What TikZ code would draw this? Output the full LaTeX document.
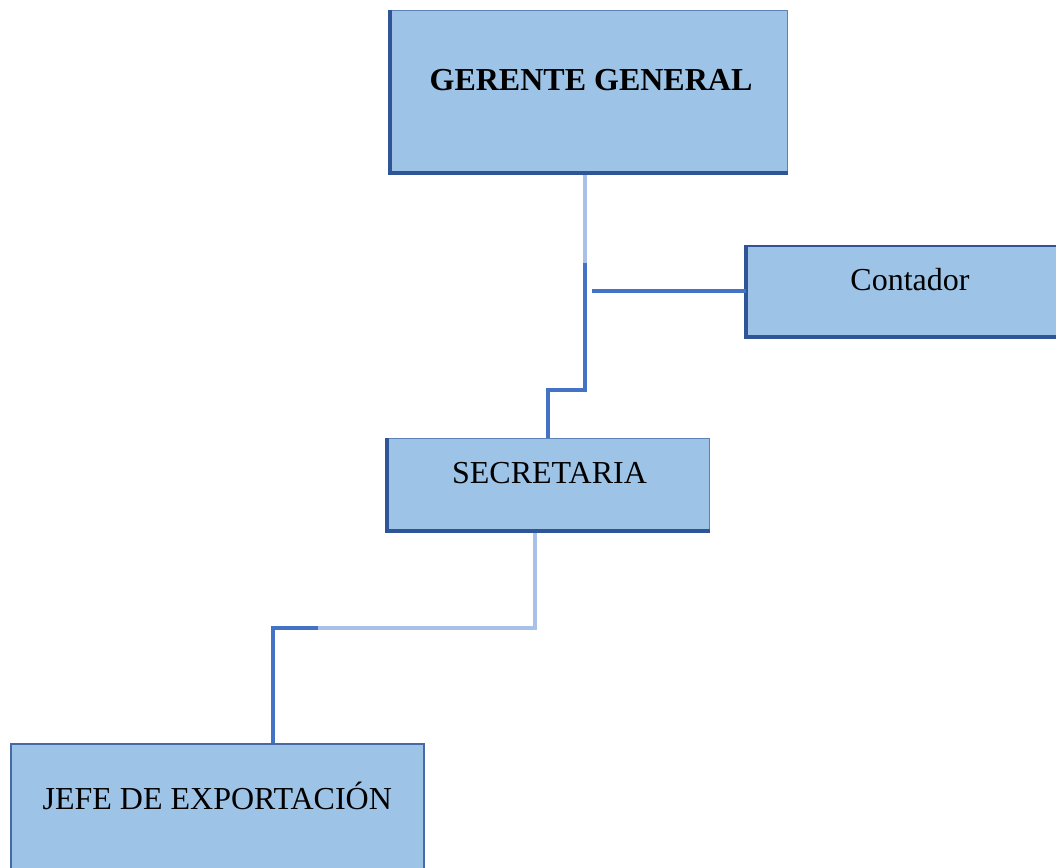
\documentclass[tikz,border=0pt]{standalone}
\usepackage{fontspec}
\setmainfont{Liberation Serif}
\usetikzlibrary{calc}
\definecolor{boxfill}{HTML}{9DC3E6}
\definecolor{boxedge}{HTML}{2F5597}
\definecolor{linkblue}{HTML}{4472C4}
\definecolor{linklight}{HTML}{A9C0E8}
\tikzset{
  orgbox/.style={draw=boxedge!60!boxfill, line width=1pt, fill=boxfill, inner sep=0pt, anchor=north west},
  heavyedge/.style={draw=boxedge, line width=3.5pt},
  lbl/.style={font=\fontsize{32}{38}\selectfont, anchor=base, inner sep=0pt, text=black},
  link/.style={draw=linkblue, line width=4pt},
  linksoft/.style={draw=linklight, line width=4pt}
}
\begin{document}
\begin{tikzpicture}[x=1pt,y=-1pt]
\useasboundingbox (0,0) rectangle (1056,867);
% boxes
\node[orgbox, minimum width=397pt, minimum height=162pt] (g) at (390,10) {};
\node[orgbox, draw=boxedge, line width=2pt, minimum width=312pt, minimum height=90pt] (c) at (746,245) {};
\node[orgbox, minimum width=322pt, minimum height=92pt] (s) at (387,438) {};
\node[orgbox, draw=boxedge!80!boxfill, line width=1.5pt, minimum width=413pt, minimum height=130pt] (j) at (10,743) {};
% heavy left/bottom edges
\draw[heavyedge] (g.north west) -- (g.south west) -- (g.south east);
\draw[heavyedge] (c.north west) -- (c.south west) -- (c.south east);
\draw[heavyedge] (s.north west) -- (s.south west) -- (s.south east);
% labels
\node[lbl, font=\fontsize{32}{38}\selectfont\bfseries] (gt) at ($(g.north)+(2,80)$) {GERENTE GENERAL};
\node[lbl] (ct) at ($(c.north)+(7,45)$) {Contador};
\node[lbl] (st) at ($(s.north)+(1,45)$) {SECRETARIA};
\node[lbl] (jt) at ($(j.north)+(0,66)$) {JEFE DE EXPORTACIÓN};
% connectors
\coordinate (gs) at ($(g.south)+(-4.5,2)$);
\draw[linksoft] (gs) -- ++(0,90);
\draw[link] ($(gs)+(0,88)$) |- ($(s.north)+(-1,-48)$) -- ($(s.north)+(-1,0)$);
\draw[link] (c.west) -- ++(-154,0);
\coordinate (ss) at ($(s.south)+(-14,2)$);
\draw[linksoft] (ss) |- ($(j.north)+(100,-115)$);
\draw[link, line join=miter] ($(j.north)+(101,-115)$) -| ($(j.north)+(55.5,0)$);
\end{tikzpicture}
\end{document}
